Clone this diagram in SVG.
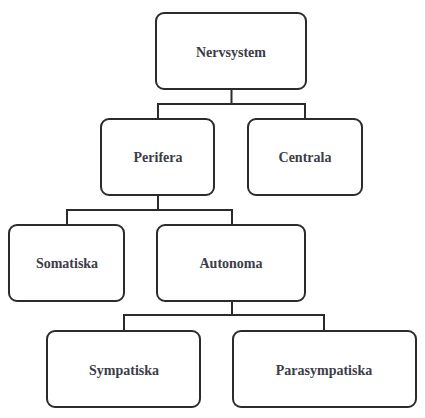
<svg xmlns="http://www.w3.org/2000/svg" width="425" height="418" viewBox="0 0 425 418">
<style>
.box{fill:#fff;stroke:#2b2b2b;stroke-width:2}
.lbl{font-family:"Liberation Serif","DejaVu Serif",serif;font-size:14px;font-weight:bold;fill:#3c3c48;text-anchor:middle;dominant-baseline:central}
.con{fill:none;stroke:#2b2b2b;stroke-width:2}
</style>
<rect width="425" height="418" fill="#fff"/>
<g id="connectors">
<path class="con" d="M231.5,89V104M158,119V104H305V119"/>
<path class="con" d="M158,195V210M67,225V210H232V225"/>
<path class="con" d="M232,301V315M124,331V315H324V331"/>
</g>
<g id="nervsystem"><rect class="box" x="156" y="13" width="150" height="76" rx="8"/><text class="lbl" x="231" y="52">Nervsystem</text></g>
<g id="perifera"><rect class="box" x="101" y="119" width="113" height="76" rx="8"/><text class="lbl" x="158" y="157">Perifera</text></g>
<g id="centrala"><rect class="box" x="248" y="119" width="114" height="76" rx="8"/><text class="lbl" x="305" y="157">Centrala</text></g>
<g id="somatiska"><rect class="box" x="9" y="225" width="115" height="76" rx="8"/><text class="lbl" x="67" y="263">Somatiska</text></g>
<g id="autonoma"><rect class="box" x="157" y="225" width="148" height="76" rx="8"/><text class="lbl" x="231" y="263">Autonoma</text></g>
<g id="sympatiska"><rect class="box" x="47" y="331" width="153" height="76" rx="8"/><text class="lbl" x="124" y="370">Sympatiska</text></g>
<g id="parasympatiska"><rect class="box" x="233" y="331" width="183" height="76" rx="8"/><text class="lbl" x="324" y="370">Parasympatiska</text></g>
</svg>
